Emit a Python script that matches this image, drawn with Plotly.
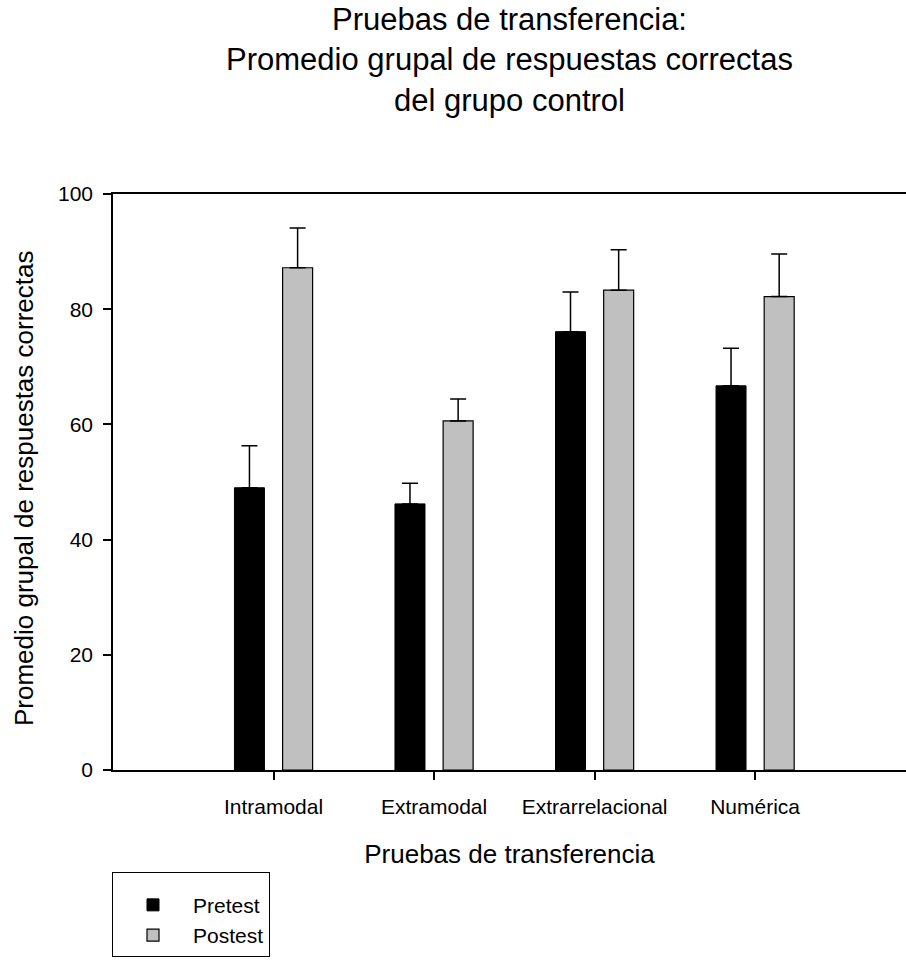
import plotly.graph_objects as go

categories = ["Intramodal", "Extramodal", "Extrarrelacional", "Numérica"]
pretest = [49.0, 46.2, 76.1, 66.7]
pretest_err = [7.3, 3.6, 6.9, 6.5]
postest = [87.2, 60.6, 83.3, 82.2]
postest_err = [6.9, 3.8, 7.0, 7.4]
y_ticks = [0, 20, 40, 60, 80, 100]

FONT = "Liberation Sans, Arial, sans-serif"
W, H = 906, 960
ML, MR, MT, MB = 113, 0, 194, 190
PW, PH = W - ML - MR, H - MT - MB

fig = go.Figure()
fig.add_trace(go.Bar(
    name="Pretest", x=categories, y=pretest,
    marker=dict(color="#000000", line=dict(color="#000000", width=1)),
    error_y=dict(type="data", symmetric=False, array=pretest_err,
                 arrayminus=[0] * len(pretest_err), color="#000000",
                 thickness=1.5, width=8),
))
fig.add_trace(go.Bar(
    name="Postest", x=categories, y=postest,
    marker=dict(color="#c0c0c0", line=dict(color="#000000", width=1.2)),
    error_y=dict(type="data", symmetric=False, array=postest_err,
                 arrayminus=[0] * len(postest_err), color="#000000",
                 thickness=1.5, width=8),
))

fig.update_layout(
    width=W, height=H,
    margin=dict(l=ML, r=MR, t=MT, b=MB, autoexpand=False),
    paper_bgcolor="white", plot_bgcolor="white",
    font=dict(family=FONT, color="#000000"),
    barmode="group", bargap=0.4, bargroupgap=0.377,
    title=dict(
        text="Pruebas de transferencia:<br>Promedio grupal de respuestas correctas<br>del grupo control",
        x=0.5, xref="paper", xanchor="center",
        y=1 - 30 / H, yref="container", yanchor="top",
        font=dict(size=31, family=FONT, color="#000000"),
    ),
    showlegend=True,
    legend=dict(
        x=112 / W, xref="container", xanchor="left",
        y=(H - 872) / H, yref="container", yanchor="top",
        bordercolor="#000000", borderwidth=1, bgcolor="white",
        font=dict(size=21, family=FONT, color="#000000"),
        traceorder="normal", itemwidth=70,
        title=dict(text="&nbsp;", font=dict(size=9, family=FONT, color="#ffffff"), side="top"),
    ),
    xaxis=dict(
        type="category", range=[-1, 3.94],
        showline=True, linecolor="#000000", linewidth=1.5, mirror=True,
        ticks="outside", ticklen=8, tickwidth=1.5, tickcolor="#000000",
        showgrid=False, zeroline=False,
        tickfont=dict(size=21, family=FONT, color="#000000"),
        ticklabelstandoff=9,
        title=dict(text="Pruebas de transferencia", standoff=28,
                   font=dict(size=26, family=FONT, color="#000000")),
    ),
    yaxis=dict(
        range=[0, 100], tickvals=y_ticks,
        showline=True, linecolor="#000000", linewidth=1.5, mirror=False,
        ticks="outside", ticklen=8, tickwidth=1.5, tickcolor="#000000",
        showgrid=False, zeroline=False,
        tickfont=dict(size=21, family=FONT, color="#000000"),
        ticklabelstandoff=6,
    ),
    annotations=[dict(
        text="Promedio grupal de respuestas correctas",
        textangle=-90, showarrow=False,
        xref="paper", yref="paper",
        x=(24 - ML) / PW, y=(H - MB - 489) / PH,
        xanchor="center", yanchor="middle",
        font=dict(size=26, family=FONT, color="#000000"),
    )],
)

fig.write_html(
    "out.html",
    config={"displayModeBar": False},
    post_script="document.body.style.margin='0';document.body.style.padding='0';",
)
